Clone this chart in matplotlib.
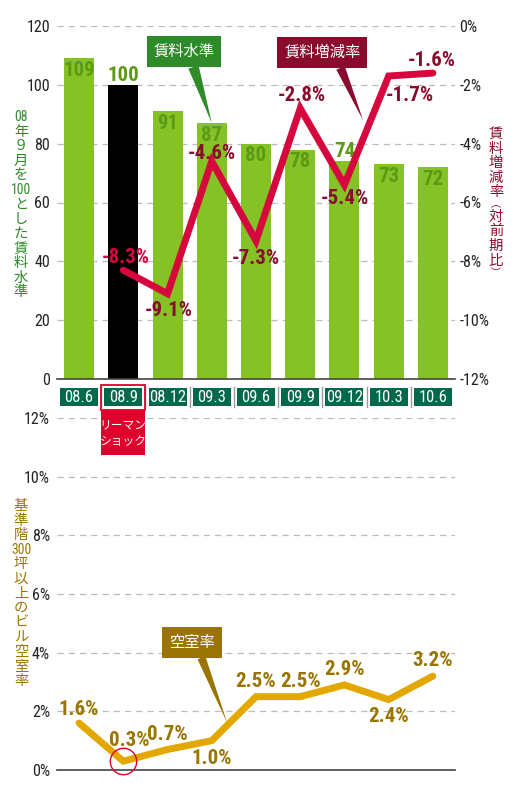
import matplotlib
matplotlib.use("Agg")
import matplotlib.pyplot as plt
from matplotlib import font_manager
from matplotlib.patches import Rectangle
import matplotlib.transforms as mtrans

# ---------------- data ----------------
periods = ["08.6", "08.9", "08.12", "09.3", "09.6", "09.9", "09.12", "10.3", "10.6"]
rent_index = [109, 100, 91, 87, 80, 78, 74, 73, 72]
rent_change = [None, -8.3, -9.1, -4.6, -7.3, -2.8, -5.4, -1.7, -1.6]
vacancy = [1.6, 0.3, 0.7, 1.0, 2.5, 2.5, 2.9, 2.4, 3.2]
left_ticks = [0, 20, 40, 60, 80, 100, 120]
right_ticks = [0, -2, -4, -6, -8, -10, -12]
vac_ticks = [0, 2, 4, 6, 8, 10, 12]

# ---------------- fonts ----------------
fl = font_manager.fontManager.ttflist
names = {f.name for f in fl}
cond = [f for f in fl if str(f.stretch) in ("condensed", "semi-condensed", "extra-condensed")
        or "Condensed" in f.name or "Narrow" in f.name]
NARROW = None
STRETCH = "normal"
for cand in ["Roboto Condensed", "Liberation Sans Narrow", "Open Sans Condensed"]:
    if cand in names:
        NARROW = cand
        break
if NARROW is None:
    dv = [f for f in cond if f.name == "DejaVu Sans"]
    if dv:
        NARROW = "DejaVu Sans"
        STRETCH = "condensed"
    else:
        NARROW = "Liberation Sans"
CJK = "Noto Sans CJK JP"
plt.rcParams["font.family"] = [NARROW, CJK, "DejaVu Sans"]
plt.rcParams["font.stretch"] = STRETCH
NUMF = dict(family=NARROW, stretch=STRETCH)

BAR_GREEN = "#84c225"
BAR_TXT = "#5c9a16"
DARK_GREEN = "#2f8a2a"
TEAL = "#00694b"
CRIMSON = "#d5073d"
DCRIMSON = "#8a0c2c"
GOLD = "#e3a800"
DGOLD = "#9a7400"
GRID = "#bbbbbb"

W, H = 520, 790
fig = plt.figure(figsize=(W / 100, H / 100), dpi=100)
fig.patch.set_facecolor("white")

def fx(px):
    return px / W

def fy(py):
    return 1 - py / H

L, R = 57, 455
ax = fig.add_axes([fx(L), fy(379), fx(R) - fx(L), fy(26) - fy(379)])
ax2 = ax.twinx()
axb = fig.add_axes([fx(L), fy(770), fx(R) - fx(L), fy(418) - fy(770)])

x = list(range(len(periods)))
LBL = 15  # value label size
LW = 5

# ---------------- top chart ----------------
colors = [BAR_GREEN] * len(x)
colors[1] = "black"
ax.bar(x, rent_index, width=0.68, color=colors, zorder=2)
ax.set_xlim(-0.5, len(x) - 0.5)
ax.set_ylim(0, 120)
ax.set_yticks(left_ticks)
ax.set_yticklabels([str(t) for t in left_ticks], fontsize=11.5, color="#222222", **NUMF)
ax.tick_params(axis="y", length=0, pad=5)
ax.set_xticks([])
for s in ["top", "right", "left"]:
    ax.spines[s].set_visible(False)
ax.spines["bottom"].set_color("#444444")
ax.spines["bottom"].set_linewidth(1.2)
ax.spines["bottom"].set_zorder(5)
for t in left_ticks[1:]:
    ax.axhline(t, color=GRID, lw=0.9, ls=(0, (5, 4)), zorder=1)

for i, v in enumerate(rent_index):
    if i == 1 or i == 6:
        ax.annotate(str(v), (i, v), xytext=(0, 0), textcoords="offset points",
                    ha="center", va="bottom", fontsize=LBL, fontweight="bold",
                    color=BAR_TXT, zorder=6, **NUMF)
    else:
        ax.annotate(str(v), (i, v), xytext=(0, -2), textcoords="offset points",
                    ha="center", va="top", fontsize=LBL, fontweight="bold",
                    color=BAR_TXT, zorder=6, **NUMF)

ax2.set_ylim(-12, 0)
ax2.set_yticks(right_ticks)
ax2.set_yticklabels([f"{t}%" for t in right_ticks], fontsize=11.5, color="#222222", **NUMF)
ax2.tick_params(axis="y", length=0, pad=3)
for s in ["top", "right", "left", "bottom"]:
    ax2.spines[s].set_visible(False)

xs = [i for i, v in enumerate(rent_change) if v is not None]
ys = [v for v in rent_change if v is not None]
ax2.plot(xs, ys, color=CRIMSON, lw=LW, solid_joinstyle="miter",
         solid_capstyle="round", zorder=4)
offs = {1: (2, 9, CRIMSON), 2: (1, -12, DCRIMSON), 3: (0, 5.5, DCRIMSON),
        4: (0, -13, DCRIMSON), 5: (1, 9, DCRIMSON), 6: (0, -10, DCRIMSON),
        7: (15, -14, DCRIMSON), 8: (-1, 9, DCRIMSON)}
for i, v in zip(xs, ys):
    dx, dy, c = offs[i]
    ax2.annotate(f"{v:.1f}%", (i, v), xytext=(dx, dy), textcoords="offset points",
                 ha="center", va="center", fontsize=LBL, fontweight="bold",
                 color=c, zorder=6, **NUMF)

# callouts
ax.annotate("賃料水準", xy=(3, 87), xytext=(2.37, 111.3),
            ha="center", va="center", fontsize=11, color="white", family=CJK,
            bbox=dict(boxstyle="square,pad=0.45", fc=DARK_GREEN, ec="none"),
            arrowprops=dict(arrowstyle="wedge,tail_width=0.7,shrink_factor=0.5",
                            fc=DARK_GREEN, ec="none", shrinkA=0, shrinkB=0,
                            relpos=(0.62, 0.0)), zorder=7)
ax2.annotate("賃料増減率", xy=(6.42, -3.2), xytext=(5.5, -0.9),
             ha="center", va="center", fontsize=11, color="white", family=CJK,
             bbox=dict(boxstyle="square,pad=0.45", fc=DCRIMSON, ec="none"),
             arrowprops=dict(arrowstyle="wedge,tail_width=0.6,shrink_factor=0.5",
                             fc=DCRIMSON, ec="none", shrinkA=0, shrinkB=0,
                             relpos=(0.7, 0.0)), zorder=7)

# category label boxes
tr = mtrans.blended_transform_factory(ax.transData, fig.transFigure)
for i, p in enumerate(periods):
    ax.add_patch(Rectangle((i - 0.43, fy(406)), 0.86, fy(388) - fy(406),
                           transform=tr, facecolor=TEAL, edgecolor="none",
                           clip_on=False, zorder=3))
    ax.text(i, fy(397.5), p, transform=tr, ha="center", va="center",
            fontsize=12, color="white", clip_on=False, zorder=4, **NUMF)
    if i > 0:
        ax.add_artist(plt.Line2D([i - 0.5, i - 0.5], [fy(387), fy(407)],
                                 transform=tr, color="#999999", lw=1.0,
                                 clip_on=False))

# Lehman shock box
lehman = 1
fig.add_artist(Rectangle((lehman - 0.5, fy(455)), 1.0, fy(410) - fy(455),
                         transform=tr, facecolor="#e0002c", edgecolor="none",
                         zorder=3))
fig.add_artist(Rectangle((lehman - 0.5, fy(410)), 1.0, fy(385) - fy(410),
                         transform=tr, facecolor="none", edgecolor="#e0002c",
                         lw=1.3, zorder=3))
t_l = fig.text(lehman, fy(433), "リーマン\nショック", transform=tr, ha="center",
               va="center", fontsize=8.5, color="white", family=CJK,
               linespacing=1.35, zorder=4)

# ---------------- bottom chart ----------------
axb.set_xlim(-0.5, len(x) - 0.5)
axb.set_ylim(0, 12)
axb.set_yticks(vac_ticks)
axb.set_yticklabels([f"{t}%" for t in vac_ticks], fontsize=11.5, color="#222222", **NUMF)
axb.tick_params(axis="y", length=0, pad=5)
axb.set_xticks([])
for s in ["top", "right", "left"]:
    axb.spines[s].set_visible(False)
axb.spines["bottom"].set_color("#444444")
axb.spines["bottom"].set_linewidth(1.2)
for t in vac_ticks[1:]:
    axb.axhline(t, color=GRID, lw=0.9, ls=(0, (5, 4)), zorder=1)

axb.plot(x, vacancy, color=GOLD, lw=LW, solid_joinstyle="miter",
         solid_capstyle="round", zorder=3)
voffs = {0: (0, 10), 1: (4, 15), 2: (0, 11), 3: (0, -13), 4: (0, 11),
         5: (0, 11), 6: (0, 11), 7: (0, -12), 8: (0, 11)}
for i, v in enumerate(vacancy):
    dx, dy = voffs[i]
    axb.annotate(f"{v:.1f}%", (i, v), xytext=(dx, dy), textcoords="offset points",
                 ha="center", va="center", fontsize=LBL, fontweight="bold",
                 color=DGOLD, zorder=5, **NUMF)
# red circle around the Lehman point
axb.plot([lehman], [vacancy[lehman]], marker="o", ms=19, mfc="none",
         mec="#e0002c", mew=1.0, zorder=4, clip_on=False)

axb.annotate("空室率", xy=(3.35, 1.6), xytext=(2.55, 4.35),
             ha="center", va="center", fontsize=11, color="white", family=CJK,
             bbox=dict(boxstyle="square,pad=0.45", fc=DGOLD, ec="none"),
             arrowprops=dict(arrowstyle="wedge,tail_width=0.55,shrink_factor=0.5",
                             fc=DGOLD, ec="none", shrinkA=0, shrinkB=0,
                             relpos=(0.65, 0.0)), zorder=7)

# ---------------- vertical axis titles ----------------
def vtext(xc, ytop, items, steps, color, size=10.3):
    y = ytop
    for it, st in zip(items, steps):
        small = it.isascii()
        paren = it in "︵︶"
        fs = size * (0.95 if small else (0.7 if paren else 1.0))
        fig.text(fx(xc), fy(y), it, ha="center", va="center",
                 fontsize=fs, color=color,
                 family=[NARROW, CJK] if small else [CJK, "DejaVu Sans"],
                 stretch=STRETCH if small else "normal")
        y += st

left_items = ["08", "年", "９", "月", "を", "100", "と", "し", "た", "賃", "料", "水", "準"]
vtext(21, 117, left_items, [14.6] * len(left_items), DARK_GREEN)
bot_items = ["基", "準", "階", "300", "坪", "以", "上", "の", "ビ", "ル", "空", "室", "率"]
vtext(21, 506, bot_items, [14.6] * len(bot_items), DGOLD)
right_items = ["賃", "料", "増", "減", "率", "︵", "対", "前", "期", "比", "︶"]
vtext(496, 134, right_items, [14.5, 14.5, 14.5, 14.5, 12.5, 12.5, 14.5, 14.5, 14.5, 12.5, 0],
      DCRIMSON)

fig.savefig("out.png", dpi=100, facecolor="white")
